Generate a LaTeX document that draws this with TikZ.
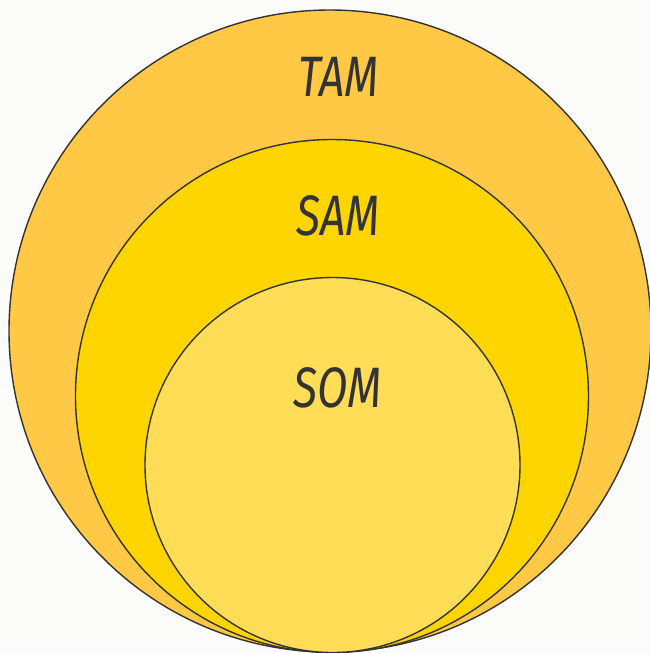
\documentclass[tikz,border=0pt]{standalone}
\usepackage{fontspec}
\setmainfont{Fira Sans}
\definecolor{tamc}{HTML}{FFC845}
\definecolor{samc}{HTML}{FFD500}
\definecolor{somc}{HTML}{FFDD57}
\definecolor{inkc}{HTML}{333333}
\definecolor{bgc}{HTML}{FBFBFA}
\begin{document}
\begin{tikzpicture}[x=1pt,y=-1pt,
  ring/.style={draw=inkc,line width=1.4pt},
  lbl/.style={inner sep=0pt,text=inkc,font=\fontsize{57}{57}\selectfont\itshape}]
\fill[bgc] (0,0) rectangle (650,653);
\useasboundingbox (0,0) rectangle (650,653);
\node[ring,circle,fill=tamc,minimum size=642pt,inner sep=0pt] (tam) at (330,331) {};
\node[ring,circle,fill=samc,minimum size=513pt,inner sep=0pt] (sam) at (332,396) {};
\node[ring,circle,fill=somc,minimum size=375pt,inner sep=0pt] (som) at (332.5,465) {};
\node[lbl] (tamt) at (339,77) {\scalebox{0.78}[1]{TAM}};
\node[lbl] (samt) at (338,216) {\scalebox{0.78}[1]{SAM}};
\node[lbl] (somt) at (338,388) {\scalebox{0.78}[1]{SOM}};
\end{tikzpicture}
\end{document}
